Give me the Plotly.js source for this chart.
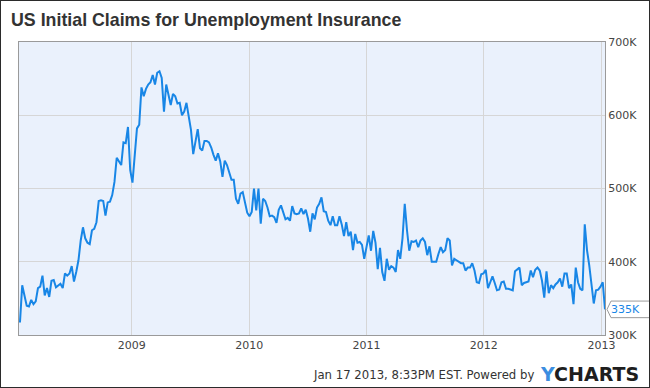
<!DOCTYPE html>
<html>
<head>
<meta charset="utf-8">
<script src="https://cdn.plot.ly/plotly-3.0.1.min.js"></script>
<style>
  html, body { margin: 0; padding: 0; background: #fff; }
  #wrap { position: relative; width: 650px; height: 388px; }
  #chart { position: absolute; left: 0; top: 0; width: 650px; height: 388px; }
  #frame { position: absolute; left: 0; top: 0; width: 650px; height: 388px; box-sizing: border-box; border: 1px solid #2b2b2b; pointer-events: none; }
</style>
</head>
<body>
<div id="wrap"><div id="chart"></div><div id="frame"></div></div>
<script>
// Weekly initial claims (thousands)
const lastWeek = '2013-01-12';
const claims = [
  317, 368, 354, 340, 339, 348, 342, 346, 364, 366, 381, 354, 364, 352, 374, 375, 365, 368, 370, 364,
  384, 381, 384, 394, 373, 386, 402, 429, 447, 432, 426, 424, 443, 445, 454, 483,
  484, 483, 463, 481, 482, 491, 509, 542, 537, 532, 563, 562, 584, 525, 508, 546, 582, 587, 638, 626,
  636, 642, 645, 655, 642, 658, 660, 651, 605, 642, 630, 614, 629, 626, 616, 617, 600, 605, 617, 600,
  580, 547, 564, 581, 555, 552, 565, 565, 563, 556, 546, 538, 548,
  537, 516, 538, 532, 523, 512, 512, 486, 479, 493, 495, 480, 467, 462, 468, 500, 470, 500, 452, 486,
  483, 474, 462, 463, 461, 453, 471, 477, 467, 458, 460, 456, 476, 466, 465, 466, 473, 465, 471, 459,
  441, 466, 458, 474, 479, 488, 469, 468, 456, 450, 462, 450, 450, 462, 451, 435, 454, 435, 441, 416,
  438, 426, 427,
  423, 404, 419, 436, 415, 442, 426, 390, 419, 386, 374, 404, 389, 394, 392, 386, 416, 404, 432, 479,
  443, 415, 428, 427, 429, 420, 429, 432, 427, 409, 421, 400, 400, 400, 411, 420, 413, 416, 432, 429,
  395, 404, 402, 400, 398, 398, 388, 392, 392, 398, 388, 372, 371, 383, 384, 389, 364,
  372, 380, 371, 361, 362, 372, 373, 363, 363, 362, 361, 387, 389, 392, 368, 371, 372, 373, 388, 379,
  389, 392, 388, 374, 351, 387, 357, 368, 364, 369, 372, 377, 366, 384, 384, 364, 369, 342, 392, 372,
  363, 361, 451, 416, 395, 371, 343, 361, 362, 366, 372, 335
];
const yearTicks = ['2009-01-01', '2010-01-01', '2011-01-01', '2012-01-01', '2013-01-01'];
const yearLabels = ['2009', '2010', '2011', '2012', '2013'];
const yTicks = [300, 400, 500, 600, 700];
const yLabels = ['300K', '400K', '500K', '600K', '700K'];
const titleText = 'US Initial Claims for Unemployment Insurance';
const footerText = 'Jan 17 2013, 8:33PM EST. Powered by';

// weekly dates ending on lastWeek
const dates = [];
const end = new Date(lastWeek + 'T00:00:00Z');
for (let i = claims.length - 1; i >= 0; i--) {
  const d = new Date(end.getTime() - i * 7 * 86400000);
  dates.push(d.toISOString().slice(0, 10));
}

const W = 650, H = 388;
const M = {l: 19, r: 45, t: 42, b: 53};
const pw = W - M.l - M.r, ph = H - M.t - M.b;
const yMin = 300, yMax = 700;
const last = claims[claims.length - 1];
const lastPaperY = (last - yMin) / (yMax - yMin);
const px = v => v / pw, py = v => v / ph;

const lineColor = '#1886e6';
const font = 'DejaVu Sans, Verdana, sans-serif';
const titleFont = 'Liberation Sans, Arial, sans-serif';

// pointer label for last value
const tipX = 1 + px(2), boxL = 1 + px(6), boxR = 1 + px(60);
const hh = py(8.3);
const labelPath = `M ${tipX} ${lastPaperY} L ${boxL} ${lastPaperY + hh} L ${boxR} ${lastPaperY + hh} L ${boxR} ${lastPaperY - hh} L ${boxL} ${lastPaperY - hh} Z`;

const data = [{
  x: dates, y: claims, type: 'scatter', mode: 'lines',
  line: {color: lineColor, width: 2}, hoverinfo: 'skip'
}];

const layout = {
  width: W, height: H,
  margin: M,
  paper_bgcolor: '#ffffff',
  plot_bgcolor: '#eaf1fc',
  showlegend: false,
  title: {
    text: '<b>' + titleText + '</b>',
    x: 11 / W, xref: 'container', xanchor: 'left',
    y: 1 - 20 / H, yref: 'container', yanchor: 'middle',
    font: {family: titleFont, size: 17.8, color: '#333333'}
  },
  xaxis: {
    type: 'date',
    range: ['2008-01-16', lastWeek],
    tickmode: 'array', tickvals: yearTicks, ticktext: yearLabels,
    showgrid: true, gridcolor: '#d6d6d6', gridwidth: 1,
    showline: true, mirror: true, linecolor: '#9a9a9a', linewidth: 1,
    ticks: '', zeroline: false,
    tickfont: {family: font, size: 11, color: '#444444'}
  },
  yaxis: {
    range: [yMin, yMax], side: 'right',
    tickmode: 'array', tickvals: yTicks, ticktext: yLabels,
    showgrid: true, gridcolor: '#d6d6d6', gridwidth: 1,
    showline: true, mirror: true, linecolor: '#9a9a9a', linewidth: 1,
    ticks: '', zeroline: false,
    tickfont: {family: font, size: 11, color: '#444444'}
  },
  shapes: [{
    type: 'path', xref: 'paper', yref: 'paper', path: labelPath,
    fillcolor: '#ffffff', line: {color: '#9a9a9a', width: 1}, layer: 'above'
  }],
  annotations: [
    {
      xref: 'paper', yref: 'paper', x: 1 + px(4), y: lastPaperY,
      xanchor: 'left', yanchor: 'middle', showarrow: false,
      text: Math.round(last) + 'K',
      font: {family: font, size: 11, color: lineColor}
    },
    {
      xref: 'paper', yref: 'paper', x: px(536 - M.l), y: -py(374.5 - (H - M.b)),
      xanchor: 'right', yanchor: 'middle', showarrow: false,
      text: footerText,
      font: {family: font, size: 11.7, color: '#333333'}
    },
    {
      xref: 'paper', yref: 'paper', x: px(538 - M.l), y: -py(374 - (H - M.b)),
      xanchor: 'left', yanchor: 'middle', showarrow: false,
      text: '<b><span style="color:#3b8de0">Y</span>CHARTS</b>',
      font: {family: font, size: 19, color: '#1e1e1e'}
    }
  ]
};

Plotly.newPlot('chart', data, layout, {staticPlot: true, displayModeBar: false});
</script>
</body>
</html>
